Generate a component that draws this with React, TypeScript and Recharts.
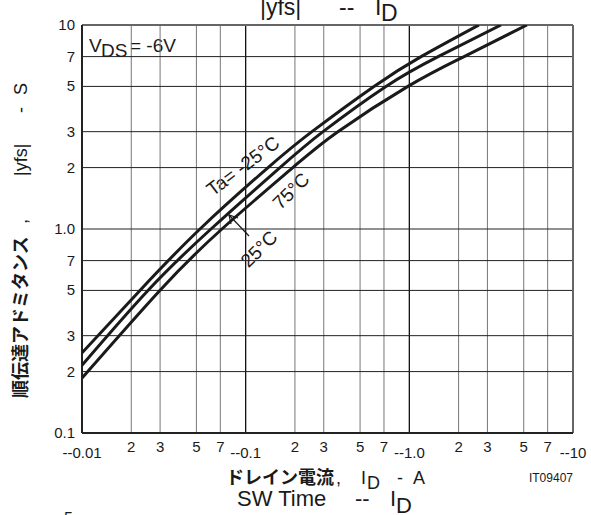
import { LineChart, Line, XAxis, YAxis, ReferenceLine, Customized } from "recharts";

// |yfs| -- ID, VDS = -6V (drain current shown as magnitude, axis labelled negative)
const X_TICKS = [0.01, 0.02, 0.03, 0.05, 0.07, 0.1, 0.2, 0.3, 0.5, 0.7, 1, 2, 3, 5, 7, 10];
const X_LABELS = ["--0.01", "2", "3", "5", "7", "--0.1", "2", "3", "5", "7", "--1.0", "2", "3", "5", "7", "--10"];
const X_MAJOR = [0.1, 1];
const Y_TICKS = [0.1, 0.2, 0.3, 0.5, 0.7, 1, 2, 3, 5, 7, 10];
const Y_LABELS = ["0.1", "2", "3", "5", "7", "1.0", "2", "3", "5", "7", "10"];

// Ta = -25°C
const ID_M25 = [0.01, 0.0226, 0.0526, 0.137, 0.254, 0.608, 1.18, 2.66];
const YFS_M25 = [0.247, 0.5, 1.0, 2, 3, 5, 7, 10];
// Ta = 25°C
const ID_25 = [0.01, 0.0253, 0.0614, 0.162, 0.297, 0.72, 1.5, 3.63];
const YFS_25 = [0.215, 0.5, 1.0, 2, 3, 5, 7, 10];
// Ta = 75°C
const ID_75 = [0.01, 0.0299, 0.0716, 0.194, 0.366, 0.98, 2.16, 5.23];
const YFS_75 = [0.186, 0.5, 1.0, 2, 3, 5, 7, 10];

const toRows = (xs: number[], ys: number[]) => xs.map((x, i) => ({ x, y: ys[i] }));

const SANS = "'Liberation Sans', Arial, sans-serif";
const JP = "'Noto Sans CJK JP', sans-serif";
const INK = "#1a1a1a";

const halo = { paintOrder: "stroke" as const, stroke: "#fff", strokeWidth: 6, strokeLinejoin: "round" as const };

function XTick({ x, y, payload }: any) {
  const i = X_TICKS.indexOf(payload.value);
  const label = X_LABELS[i] ?? "";
  const major = label.startsWith("--");
  return (
    <text x={x} y={y + (major ? 25 : 19)} textAnchor="middle" fontSize={15} fontFamily={SANS} fill={INK}>
      {label}
    </text>
  );
}

function YTick({ x, y, payload }: any) {
  const i = Y_TICKS.indexOf(payload.value);
  return (
    <text x={x - 7} y={y + 5} textAnchor="end" fontSize={15} fontFamily={SANS} fill={INK}>
      {Y_LABELS[i] ?? ""}
    </text>
  );
}

function Annotations() {
  return (
    <g fill={INK} fontFamily={SANS}>
      {/* top title, cut by the page edge */}
      <text y={15} fontSize={23}>
        <tspan x={260}>|yfs|</tspan>
        <tspan x={339}>--</tspan>
        <tspan x={375}>I</tspan>
        <tspan x={381} dy={6}>D</tspan>
      </text>

      <rect x={83} y={26} width={104} height={37} fill="#fff" />
      <text y={52} fontSize={19}>
        <tspan x={89}>V</tspan>
        <tspan x={101} dy={5}>DS</tspan>
        <tspan x={130} dy={-5}>= -6V</tspan>
      </text>

      <text x={243} y={166} fontSize={19} textAnchor="middle" dominantBaseline="central" transform="rotate(-37 243 166)" style={halo}>
        Ta= -25°C
      </text>
      <text x={291} y={191} fontSize={19} textAnchor="middle" dominantBaseline="central" transform="rotate(-45 291 191)" style={halo}>
        75°C
      </text>
      <text x={259} y={249} fontSize={19} textAnchor="middle" dominantBaseline="central" transform="rotate(-45 259 249)" style={halo}>
        25°C
      </text>
      <g stroke={INK} strokeWidth={1.2} fill="none">
        <line x1={249} y1={236} x2={229} y2={215} />
        <polyline points="231,224 229,215 238,218" />
      </g>

      {/* y axis title */}
      <g transform="translate(27 0) rotate(-90)">
        <text fontSize={18}>
          <tspan x={-398} fontFamily={JP} fontWeight="bold">順伝達アドミタンス</tspan>
          <tspan x={-224}>,</tspan>
          <tspan x={-176}>|yfs|</tspan>
          <tspan x={-113}>-</tspan>
          <tspan x={-95}>S</tspan>
        </text>
      </g>

      {/* x axis title */}
      <text y={484} fontSize={18}>
        <tspan x={226} fontFamily={JP} fontWeight="bold">ドレイン電流</tspan>
        <tspan x={336}>,</tspan>
        <tspan x={361}>I</tspan>
        <tspan x={367} dy={5}>D</tspan>
        <tspan x={397} dy={-5}>-</tspan>
        <tspan x={413}>A</tspan>
      </text>
      <text x={573} y={482} fontSize={12} textAnchor="end">IT09407</text>

      {/* next chart's title, cut at the bottom */}
      <text y={506} fontSize={22}>
        <tspan x={237}>SW Time</tspan>
        <tspan x={355}>--</tspan>
        <tspan x={390}>I</tspan>
        <tspan x={396} dy={7}>D</tspan>
      </text>
      <text x={64} y={524} fontSize={16}>5</text>
    </g>
  );
}

export default function App() {
  return (
    <div style={{ position: "absolute", left: 0, top: 0, background: "#fff" }}>
      <LineChart width={591} height={515} margin={{ top: 25, right: 18, bottom: 0, left: 0 }}>
        <XAxis
          dataKey="x"
          type="number"
          scale="log"
          domain={[0.01, 10]}
          ticks={X_TICKS}
          interval={0}
          allowDataOverflow
          height={82}
          tickSize={0}
          tickMargin={0}
          axisLine={false}
          tick={<XTick />}
        />
        <YAxis
          type="number"
          scale="log"
          domain={[0.1, 10]}
          ticks={Y_TICKS}
          interval={0}
          allowDataOverflow
          width={82}
          tickSize={0}
          tickMargin={0}
          axisLine={false}
          tick={<YTick />}
        />
        {X_TICKS.slice(1, -1).map((v) => (
          <ReferenceLine key={"x" + v} x={v} stroke={X_MAJOR.includes(v) ? "#111" : "#777"} strokeWidth={X_MAJOR.includes(v) ? 1.3 : 1} />
        ))}
        {Y_TICKS.slice(1, -1).map((v) => (
          <ReferenceLine key={"y" + v} y={v} stroke="#222" strokeWidth={1} />
        ))}
        <ReferenceLine y={10} stroke="#666" strokeWidth={2} />
        <ReferenceLine x={10} stroke="#666" strokeWidth={2} />
        <ReferenceLine y={0.1} stroke="#222" strokeWidth={2} />
        <ReferenceLine x={0.01} stroke="#222" strokeWidth={2} />
        <Customized component={<Annotations />} />
        <Line data={toRows(ID_M25, YFS_M25)} dataKey="y" type="natural" stroke={INK} strokeWidth={3} dot={false} isAnimationActive={false} />
        <Line data={toRows(ID_25, YFS_25)} dataKey="y" type="natural" stroke={INK} strokeWidth={3} dot={false} isAnimationActive={false} />
        <Line data={toRows(ID_75, YFS_75)} dataKey="y" type="natural" stroke={INK} strokeWidth={3} dot={false} isAnimationActive={false} />
      </LineChart>
    </div>
  );
}
